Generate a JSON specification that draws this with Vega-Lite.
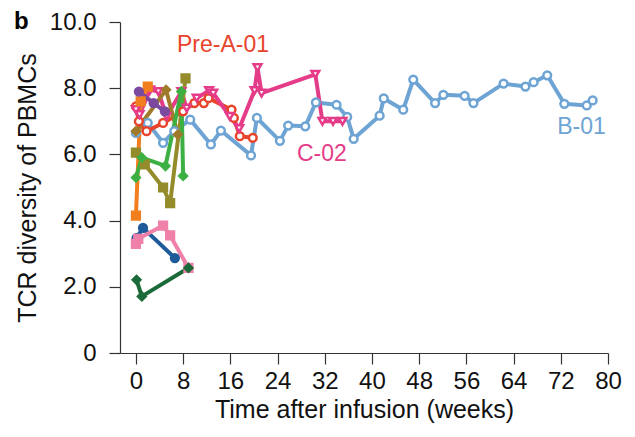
{
  "$schema": "https://vega.github.io/schema/vega-lite/v6.json",
  "width": 488,
  "height": 331,
  "autosize": "none",
  "padding": {"left": 120, "top": 22, "right": 27, "bottom": 84},
  "background": "white",
  "title": {"text": "b", "anchor": "start", "frame": "group", "dx": -106, "dy": 28, "fontSize": 24, "fontWeight": "bold", "font": "Liberation Sans", "color": "#000"},
  "config": {
    "view": {"stroke": null},
    "font": "Liberation Sans",
    "axis": {"grid": false, "domainColor": "#333", "tickColor": "#333", "domainWidth": 1.2, "tickWidth": 1.2, "tickSize": 11, "labelFont": "Liberation Sans", "titleFont": "Liberation Sans", "labelFontSize": 24, "titleFontSize": 25, "titleFontWeight": "normal", "labelColor": "#111", "titleColor": "#111", "labelFlush": false, "labelOverlap": false}
  },
  "datasets": {
    "series": [
      {"id": "B-01", "week": 0, "value": 6.65},
      {"id": "B-01", "week": 2.0, "value": 6.95},
      {"id": "B-01", "week": 4.6, "value": 6.35},
      {"id": "B-01", "week": 6.5, "value": 6.7},
      {"id": "B-01", "week": 9.2, "value": 7.05},
      {"id": "B-01", "week": 12.7, "value": 6.3},
      {"id": "B-01", "week": 14.4, "value": 6.72},
      {"id": "B-01", "week": 19.5, "value": 5.97},
      {"id": "B-01", "week": 20.5, "value": 7.1},
      {"id": "B-01", "week": 24.4, "value": 6.41},
      {"id": "B-01", "week": 25.8, "value": 6.87},
      {"id": "B-01", "week": 28.7, "value": 6.85},
      {"id": "B-01", "week": 30.5, "value": 7.57},
      {"id": "B-01", "week": 34.0, "value": 7.5},
      {"id": "B-01", "week": 35.8, "value": 7.13},
      {"id": "B-01", "week": 36.9, "value": 6.47},
      {"id": "B-01", "week": 41.3, "value": 7.17},
      {"id": "B-01", "week": 42.0, "value": 7.69},
      {"id": "B-01", "week": 45.3, "value": 7.35},
      {"id": "B-01", "week": 47.0, "value": 8.26},
      {"id": "B-01", "week": 50.7, "value": 7.55},
      {"id": "B-01", "week": 52.1, "value": 7.8},
      {"id": "B-01", "week": 55.7, "value": 7.77},
      {"id": "B-01", "week": 57.2, "value": 7.55},
      {"id": "B-01", "week": 62.3, "value": 8.14},
      {"id": "B-01", "week": 66.0, "value": 8.05},
      {"id": "B-01", "week": 67.4, "value": 8.18},
      {"id": "B-01", "week": 69.7, "value": 8.39},
      {"id": "B-01", "week": 72.6, "value": 7.53},
      {"id": "B-01", "week": 76.4, "value": 7.48},
      {"id": "B-01", "week": 77.4, "value": 7.63},
      {"id": "Pre-A-01", "week": 0, "value": 7.45},
      {"id": "Pre-A-01", "week": 0.5, "value": 7.0},
      {"id": "Pre-A-01", "week": 1.8, "value": 6.7},
      {"id": "Pre-A-01", "week": 4.6, "value": 6.95},
      {"id": "Pre-A-01", "week": 8.0, "value": 7.3},
      {"id": "Pre-A-01", "week": 9.9, "value": 7.55},
      {"id": "Pre-A-01", "week": 11.5, "value": 7.55},
      {"id": "Pre-A-01", "week": 12.3, "value": 7.7},
      {"id": "Pre-A-01", "week": 16.2, "value": 7.35},
      {"id": "Pre-A-01", "week": 16.6, "value": 7.1},
      {"id": "Pre-A-01", "week": 17.6, "value": 6.55},
      {"id": "Pre-A-01", "week": 19.8, "value": 6.5},
      {"id": "C-02", "week": 0, "value": 7.35},
      {"id": "C-02", "week": 0.6, "value": 7.2},
      {"id": "C-02", "week": 2.4, "value": 7.95},
      {"id": "C-02", "week": 3.8, "value": 7.9},
      {"id": "C-02", "week": 5.2, "value": 7.15},
      {"id": "C-02", "week": 7.7, "value": 7.9},
      {"id": "C-02", "week": 8.6, "value": 7.4},
      {"id": "C-02", "week": 10.3, "value": 7.7},
      {"id": "C-02", "week": 12.4, "value": 7.93},
      {"id": "C-02", "week": 13.1, "value": 7.85},
      {"id": "C-02", "week": 15.9, "value": 7.15},
      {"id": "C-02", "week": 17.5, "value": 6.78},
      {"id": "C-02", "week": 20.1, "value": 7.93},
      {"id": "C-02", "week": 20.6, "value": 8.62},
      {"id": "C-02", "week": 21.3, "value": 7.85},
      {"id": "C-02", "week": 30.4, "value": 8.42},
      {"id": "C-02", "week": 31.6, "value": 7.0},
      {"id": "C-02", "week": 33.4, "value": 7.0},
      {"id": "C-02", "week": 35.0, "value": 7.0},
      {"id": "P-orange", "week": 0, "value": 4.15},
      {"id": "P-orange", "week": 0.8, "value": 7.6},
      {"id": "P-orange", "week": 2.0, "value": 8.05},
      {"id": "P-purple", "week": 0.5, "value": 7.9},
      {"id": "P-purple", "week": 3.0, "value": 7.55},
      {"id": "P-purple", "week": 4.9, "value": 7.3},
      {"id": "P-brown", "week": 0, "value": 6.7},
      {"id": "P-brown", "week": 5.1, "value": 7.95},
      {"id": "P-brown", "week": 7.1, "value": 6.6},
      {"id": "P-olive", "week": 0, "value": 6.05},
      {"id": "P-olive", "week": 1.5, "value": 5.7},
      {"id": "P-olive", "week": 4.6, "value": 5.0},
      {"id": "P-olive", "week": 5.8, "value": 4.53},
      {"id": "P-olive", "week": 8.4, "value": 8.3},
      {"id": "P-green", "week": 0, "value": 5.3},
      {"id": "P-green", "week": 1.0, "value": 5.9},
      {"id": "P-green", "week": 5.0, "value": 5.65},
      {"id": "P-green", "week": 7.7, "value": 7.9},
      {"id": "P-green", "week": 8.0, "value": 5.35},
      {"id": "P-navy", "week": 0.1, "value": 3.47},
      {"id": "P-navy", "week": 1.2, "value": 3.78},
      {"id": "P-navy", "week": 6.6, "value": 2.87},
      {"id": "P-pink", "week": 0, "value": 3.3},
      {"id": "P-pink", "week": 0.4, "value": 3.45},
      {"id": "P-pink", "week": 4.6, "value": 3.85},
      {"id": "P-pink", "week": 5.8, "value": 3.55},
      {"id": "P-pink", "week": 8.9, "value": 2.57},
      {"id": "P-dkgreen", "week": 0.1, "value": 2.21},
      {"id": "P-dkgreen", "week": 1.0, "value": 1.71},
      {"id": "P-dkgreen", "week": 8.9, "value": 2.57}
    ],
    "labels": [
      {"id": "Pre-A-01", "week": 14.75, "value": 9.31},
      {"id": "B-01", "week": 75.5, "value": 6.84},
      {"id": "C-02", "week": 31.5, "value": 6.0}
    ]
  },
  "layer": [
    {
      "data": {"name": "series"},
      "mark": {"type": "line", "strokeWidth": 4, "strokeJoin": "round"},
      "encoding": {
        "x": {"field": "week", "type": "quantitative", "scale": {"domain": [-2.7, 80], "nice": false, "zero": false},
              "axis": {"values": [0, 8, 16, 24, 32, 40, 48, 56, 64, 72, 80], "title": "Time after infusion (weeks)", "labelPadding": 5, "titlePadding": 4}},
        "y": {"field": "value", "type": "quantitative", "scale": {"domain": [0, 10], "nice": false},
              "axis": {"values": [0, 2, 4, 6, 8, 10], "labelExpr": "datum.value == 0 ? '0' : format(datum.value, '.1f')", "title": "TCR diversity of PBMCs", "labelPadding": 13, "titlePadding": 9}},
        "color": {"field": "id", "type": "nominal", "legend": null,
                  "scale": {"domain": ["B-01", "Pre-A-01", "C-02", "P-orange", "P-purple", "P-brown", "P-olive", "P-green", "P-navy", "P-pink", "P-dkgreen"],
                            "range": ["#6ea4d4", "#e8442c", "#e53c8a", "#f27f1f", "#7b4a9e", "#a07a2a", "#948c2a", "#3cb043", "#1f5a9a", "#ef80aa", "#1b6a3a"]}},
        "order": {"field": "week", "type": "quantitative"}
      }
    },
    {
      "data": {"name": "series"},
      "mark": {"type": "point", "strokeWidth": 2.5, "opacity": 1},
      "encoding": {
        "x": {"field": "week", "type": "quantitative"},
        "y": {"field": "value", "type": "quantitative"},
        "stroke": {"field": "id", "type": "nominal", "legend": null,
                  "scale": {"domain": ["B-01", "Pre-A-01", "C-02", "P-orange", "P-purple", "P-brown", "P-olive", "P-green", "P-navy", "P-pink", "P-dkgreen"],
                            "range": ["#6ea4d4", "#e8442c", "#e53c8a", "#f27f1f", "#7b4a9e", "#a07a2a", "#948c2a", "#3cb043", "#1f5a9a", "#ef80aa", "#1b6a3a"]}},
        "fill": {"field": "id", "type": "nominal", "legend": null,
                  "scale": {"domain": ["B-01", "Pre-A-01", "C-02", "P-orange", "P-purple", "P-brown", "P-olive", "P-green", "P-navy", "P-pink", "P-dkgreen"],
                            "range": ["#ffffff", "#ffffff", "#ffffff", "#f27f1f", "#7b4a9e", "#a07a2a", "#948c2a", "#3cb043", "#1f5a9a", "#ef80aa", "#1b6a3a"]}},
        "shape": {"field": "id", "type": "nominal", "legend": null,
                  "scale": {"domain": ["B-01", "Pre-A-01", "C-02", "P-orange", "P-purple", "P-brown", "P-olive", "P-green", "P-navy", "P-pink", "P-dkgreen"],
                            "range": ["circle", "circle", "triangle-down", "square", "circle", "diamond", "square", "diamond", "circle", "square", "diamond"]}},
        "size": {"value": 60}
      }
    },
    {
      "data": {"name": "labels"},
      "mark": {"type": "text", "fontSize": 23, "font": "Liberation Sans", "align": "center", "baseline": "middle"},
      "encoding": {
        "x": {"field": "week", "type": "quantitative"},
        "y": {"field": "value", "type": "quantitative"},
        "text": {"field": "id"},
        "color": {"field": "id", "type": "nominal", "legend": null}
      }
    }
  ]
}
